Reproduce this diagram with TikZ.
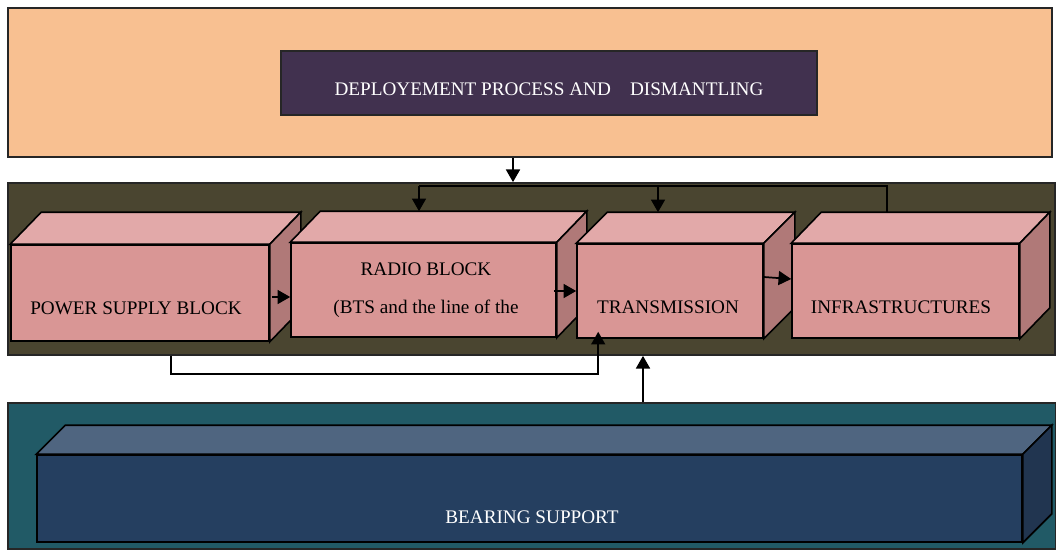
\documentclass[tikz,border=0pt]{standalone}
\usepackage{fontspec}
\setmainfont{Liberation Serif}
\usetikzlibrary{arrows.meta, positioning, calc}

\definecolor{peach}{HTML}{F8C091}
\definecolor{plum}{HTML}{41314F}
\definecolor{olivebg}{HTML}{4A4530}
\definecolor{pinkfront}{HTML}{D99695}
\definecolor{pinktopc}{HTML}{E2A9A9}
\definecolor{pinksidec}{HTML}{B07978}
\definecolor{tealbg}{HTML}{215A66}
\definecolor{navyfront}{HTML}{253F60}
\definecolor{navytopc}{HTML}{4F6580}
\definecolor{navysidec}{HTML}{213550}

% top and right faces of a box drawn behind its front node
\newcommand{\cubefaces}[4]{%
  \draw[#4top] (#1.north west) -- ++(#2,-#3) coordinate (#1-back)
    -- ($(#1.north east)+(#2,-#3)$) -- (#1.north east) -- cycle;
  \draw[#4side] (#1.north east) -- ++(#2,-#3)
    -- ($(#1.south east)+(#2,-#3)$) -- (#1.south east) -- cycle;
}

\begin{document}
\begin{tikzpicture}[x=0.75pt, y=-0.75pt]
\tikzset{% pixel units, y down
  panel/.style={rectangle, draw=black!85, line width=1.3pt, inner sep=0pt},
  front/.style={rectangle, draw, line width=1.2pt, fill=pinkfront, inner sep=0pt},
  pinktop/.style={draw, line width=1.2pt, fill=pinktopc},
  pinkside/.style={draw, line width=1.2pt, fill=pinksidec},
  navytop/.style={draw, line width=1.2pt, fill=navytopc},
  navyside/.style={draw, line width=1.2pt, fill=navysidec},
  caption/.style={anchor=base, inner sep=0pt, font=\fontsize{14.4}{17}\selectfont},
  wire/.style={draw, line width=1.3pt},
  arr/.style={wire, -{Triangle[length=9.5pt, width=10.5pt]}},
}
\newlength{\px}
\setlength{\px}{0.75pt}

\useasboundingbox (0,0) rectangle (1056,550);

% deployment
\node[panel, fill=peach, minimum width=1044*\px, minimum height=149*\px]
  (deploybg) at (530,82.5) {};
\node[panel, fill=plum, minimum width=536*\px, minimum height=64*\px]
  (deploy) at (549,83) {};
\node[caption, text=white] (deploy-text) at (549,95)
  {DEPLOYEMENT PROCESS AND\quad DISMANTLING};

% site blocks
\node[panel, fill=olivebg, minimum width=1047*\px, minimum height=172*\px]
  (sitebg) at (531.5,269) {};

\node[front, minimum width=258*\px, minimum height=96*\px] (psu) at (140,293) {};
\cubefaces{psu}{31}{32}{pink}
\node[front, minimum width=265*\px, minimum height=94*\px] (radio) at (423.5,290) {};
\cubefaces{radio}{30}{31}{pink}
\node[front, minimum width=186*\px, minimum height=94*\px] (trans) at (670,291) {};
\cubefaces{trans}{31}{31}{pink}
\node[front, minimum width=227*\px, minimum height=94*\px] (infra) at (905.5,291) {};
\cubefaces{infra}{30}{31}{pink}

\node[caption] (psu-text) at (136,314) {POWER SUPPLY BLOCK};
\node[caption] (radio-text) at (426,275) {RADIO BLOCK};
\node[caption] (radio-sub) at (426,313) {(BTS and the line of the};
\node[caption] (trans-text) at (668,313) {TRANSMISSION};
\node[caption] (infra-text) at (901,313) {INFRASTRUCTURES};

% bearing support
\node[panel, fill=tealbg, minimum width=1048*\px, minimum height=146*\px]
  (supportbg) at (532,476) {};
\node[front, fill=navyfront, minimum width=985*\px, minimum height=87*\px]
  (bearing) at (529.5,498.5) {};
\cubefaces{bearing}{29}{29}{navy}
\node[caption, text=white] (bearing-text) at (532,523) {BEARING SUPPORT};

% connectors
\coordinate (drop) at (513,0);
\coordinate (busR) at (887,186);
\coordinate (busM) at (658,186);
\coordinate (busL) at (419,186);
\coordinate (feed) at (171,374);
\coordinate (lift) at (643,0);

\draw[arr] (deploybg.south -| drop) -- (sitebg.north -| drop);
\draw[wire] (busR |- infra-back) -- (busR) -- (busL);
\draw[arr] (busL) -- (busL |- radio-back);
\draw[arr] (busM) -- (busM |- trans-back);

\draw[arr] ($(psu.east)+(2,4)$) -- ($(radio.west)+(0,7)$);
\draw[arr] ($(radio.east)+(-3,1)$) -- (trans.west);
\draw[arr] ($(trans.east)+(0,-14)$) -- ($(infra.west)+(0,-12)$);

\draw[arr] (sitebg.south -| feed) -- (feed) -| ($(trans.south west)+(22,-7)$);
\draw[arr] (supportbg.north -| lift) -- (sitebg.south -| lift);
\end{tikzpicture}
\end{document}
